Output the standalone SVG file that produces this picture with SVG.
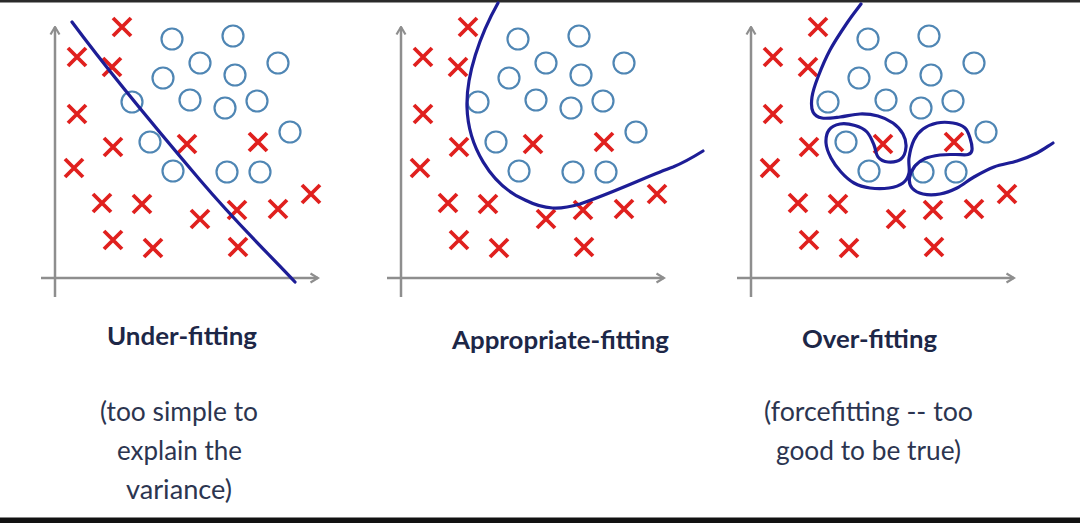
<svg xmlns="http://www.w3.org/2000/svg" xmlns:xlink="http://www.w3.org/1999/xlink" width="1080" height="523" viewBox="0 0 1080 523">
<style>
.ax{fill:none;stroke:#8e8e8e;stroke-width:2.5}
.cr{fill:none;stroke:#e0201e;stroke-width:3.8;stroke-linecap:butt}
.ci{fill:none;stroke:#4f86b4;stroke-width:2.2}
.fit{fill:none;stroke:#1d1d96;stroke-width:3.2;stroke-linecap:round;stroke-linejoin:round}
.ttl{font-family:Lato,"Open Sans","Liberation Sans",sans-serif;font-weight:bold;font-size:25px;fill:#1d2747}
.txt{font-family:Lato,"Open Sans","Liberation Sans",sans-serif;font-size:26px;fill:#2c3550}
</style>
<defs>
<marker id="ah" viewBox="0 0 12 12" refX="10.5" refY="6" markerWidth="12" markerHeight="12" markerUnits="userSpaceOnUse" orient="auto">
<path d="M3,1.5 L10.5,6 L3,10.5" fill="none" stroke="#8e8e8e" stroke-width="2.2"/>
</marker>
<path id="x" d="M-9,-9L9,9M9,-9L-9,9"/>
<g id="plot">
<path class="ax" d="M55,297 L55,27" marker-end="url(#ah)"/>
<path class="ax" d="M41,278 L318,278" marker-end="url(#ah)"/>
<g class="cr">
<use xlink:href="#x" x="122" y="27"/>
<use xlink:href="#x" x="77" y="57"/>
<use xlink:href="#x" x="112" y="67"/>
<use xlink:href="#x" x="77" y="114"/>
<use xlink:href="#x" x="113" y="147"/>
<use xlink:href="#x" x="187" y="144"/>
<use xlink:href="#x" x="258" y="142"/>
<use xlink:href="#x" x="74" y="168"/>
<use xlink:href="#x" x="102" y="203"/>
<use xlink:href="#x" x="142" y="204"/>
<use xlink:href="#x" x="200" y="219"/>
<use xlink:href="#x" x="237" y="210"/>
<use xlink:href="#x" x="278" y="209"/>
<use xlink:href="#x" x="311" y="194"/>
<use xlink:href="#x" x="113" y="240"/>
<use xlink:href="#x" x="153" y="248"/>
<use xlink:href="#x" x="238" y="247"/>
</g>
<g class="ci">
<circle cx="172" cy="39" r="10.5"/>
<circle cx="233" cy="36" r="10.5"/>
<circle cx="200" cy="63" r="10.5"/>
<circle cx="235" cy="75" r="10.5"/>
<circle cx="278" cy="63" r="10.5"/>
<circle cx="163" cy="78" r="10.5"/>
<circle cx="132" cy="102" r="10.5"/>
<circle cx="190" cy="100" r="10.5"/>
<circle cx="225" cy="108" r="10.5"/>
<circle cx="257" cy="101" r="10.5"/>
<circle cx="290" cy="132" r="10.5"/>
<circle cx="150" cy="142" r="10.5"/>
<circle cx="173" cy="171" r="10.5"/>
<circle cx="227" cy="172" r="10.5"/>
<circle cx="260" cy="172" r="10.5"/>
</g>
</g>
</defs>
<rect width="1080" height="523" fill="#ffffff"/>
<rect x="0" y="0" width="1080" height="2.5" fill="#2a2a2a"/>
<rect x="0" y="517.5" width="1080" height="5.5" fill="#111111"/>

<g id="underfitting">
<use xlink:href="#plot"/>
<text class="ttl" x="107" y="345" textLength="150" lengthAdjust="spacingAndGlyphs">Under-fitting</text>
<text class="txt" x="100" y="421" textLength="158" lengthAdjust="spacingAndGlyphs">(too simple to</text>
<text class="txt" x="117" y="460" textLength="125" lengthAdjust="spacingAndGlyphs">explain the</text>
<text class="txt" x="126" y="499" textLength="106" lengthAdjust="spacingAndGlyphs">variance)</text>
</g>

<g id="appropriate-fitting">
<use xlink:href="#plot" transform="translate(346,0)"/>
<text class="ttl" x="452" y="349" textLength="217" lengthAdjust="spacingAndGlyphs">Appropriate-fitting</text>
</g>

<g id="overfitting">
<use xlink:href="#plot" transform="translate(696,0)"/>
<text class="ttl" x="802" y="348" textLength="135" lengthAdjust="spacingAndGlyphs">Over-fitting</text>
<text class="txt" x="764" y="421" textLength="209" lengthAdjust="spacingAndGlyphs">(forcefitting -- too</text>
<text class="txt" x="776" y="460" textLength="185" lengthAdjust="spacingAndGlyphs">good to be true)</text>
</g>

<g id="connectors">
<path class="fit" d="M72,22 C115,80 160,133 200,180 S270,255 295,282"/>
<path class="fit" d="M498,3 C480,35 466,75 467,107 C468,145 490,185 525,200 C545,210 560,210 580,204 C620,190 650,175 673,167 C685,162 695,156 703,151"/>
<path class="fit" d="M861,4 C856.3,10.3 852.2,15.3 847,23 C841.8,30.7 834.8,41 830,50 C825.2,59 821,69.2 818,77 C815,84.8 812.8,91.2 812,97 C811.2,102.8 811.3,108.5 813,112 C814.7,115.5 817.5,117.2 822,118 C826.5,118.8 833.7,117.7 840,117 C846.3,116.3 853.7,114.2 860,114 C866.3,113.8 872.5,114.5 878,116 C883.5,117.5 888.8,120 893,123 C897.2,126 900.8,130 903,134 C905.2,138 906.3,142.8 906,147 C905.7,151.2 904,156.5 901,159 C898,161.5 891.8,162.3 888,162 C884.2,161.7 880.3,159.8 878,157 C875.7,154.2 875.8,149.2 874,145 C872.2,140.8 870.2,135.3 867,132 C863.8,128.7 859.5,126.8 855,125.5 C850.5,124.2 844.3,123.2 840,124 C835.7,124.8 831.3,126.8 829,130 C826.7,133.2 825.7,138.3 826,143 C826.3,147.7 828.5,153.2 831,158 C833.5,162.8 837.2,167.8 841,172 C844.8,176.2 849.2,180.3 854,183 C858.8,185.7 864.2,187.2 870,188 C875.8,188.8 883.5,188.8 889,188 C894.5,187.2 899.7,185.5 903,183 C906.3,180.5 908,177.2 909,173 C910,168.8 908.2,163.5 909,158 C909.8,152.5 911.7,144.8 914,140 C916.3,135.2 919.2,131.8 923,129 C926.8,126.2 932,124 937,123 C942,122 948.3,122.2 953,123 C957.7,123.8 962.2,125.5 965,128 C967.8,130.5 968.8,134.3 970,138 C971.2,141.7 972.3,147.2 972,150 C971.7,152.8 970.8,153.7 968,154.5 C965.2,155.3 959.7,154.4 955,154.5 C950.3,154.6 945,154.3 940,155 C935,155.7 929.2,156.7 925,158.5 C920.8,160.3 917.6,162.7 915,166 C912.4,169.3 910,174.3 909.5,178 C909,181.7 909.7,185.3 912,188 C914.3,190.7 918.3,193 923,194 C927.7,195 934.3,195 940,194 C945.7,193 951.3,190.8 957,188 C962.7,185.2 967.8,180.5 974,177 C980.2,173.5 986.8,169.7 994,167 C1001.2,164.3 1009.8,163.3 1017,161 C1024.2,158.7 1031,156 1037,153 C1043,150 1047.7,146.3 1053,143"/>
</g>
</svg>
